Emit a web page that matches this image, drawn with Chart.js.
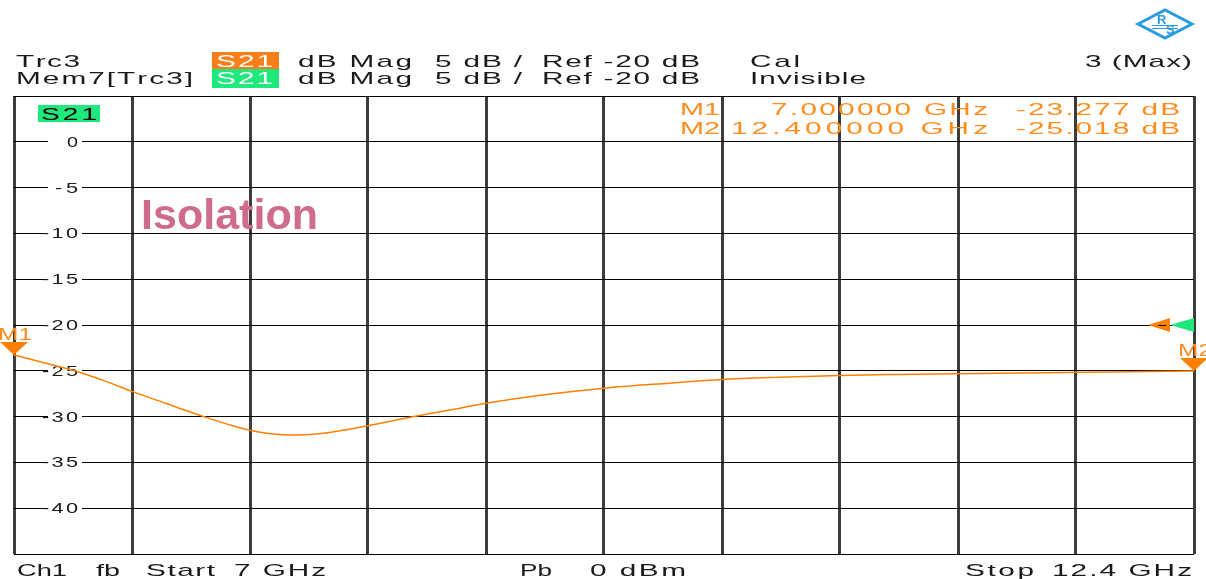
<!DOCTYPE html>
<html>
<head>
<meta charset="utf-8">
<script src="https://cdn.jsdelivr.net/npm/chart.js@4/dist/chart.umd.min.js"></script>
<style>
html,body{margin:0;padding:0;background:#fff;}
#wrap{width:1206px;height:579px;position:relative;}
</style>
</head>
<body>
<div id="wrap"><canvas id="c" width="1206" height="579"></canvas></div>
<script>
// ---- data ----
const freqGHz = [7.00, 7.15, 7.30, 7.42, 7.54, 7.70, 7.85, 8.00, 8.08, 8.15, 8.20, 8.26, 8.35, 8.45, 8.62, 8.83, 9.00, 9.16, 9.40, 9.70, 10.00, 10.24, 10.50, 10.78, 11.05, 11.32, 11.60, 11.86, 12.10, 12.40];
const s21dB   = [-23.28, -24.20, -25.15, -26.15, -27.25, -28.60, -29.85, -31.00, -31.50, -31.80, -31.93, -32.00, -31.95, -31.70, -31.00, -30.00, -29.25, -28.55, -27.70, -26.90, -26.35, -25.95, -25.70, -25.50, -25.40, -25.33, -25.25, -25.17, -25.10, -25.02];
const xGridGHz = [7.00, 7.54, 8.08, 8.62, 9.16, 9.70, 10.24, 10.78, 11.32, 11.86, 12.40];
const yTickLabels = [0, -5, -10, -15, -20, -25, -30, -35, -40];
const markerNames = ["M1", "M2"];
const markerFreqGHz = [7.0, 12.4];
const markerFreqText = ["7.000000 GHz", "12.400000 GHz"];
const markerValDB = [-23.277, -25.018];
const refLevelDB = -20;

const ORANGE = '#ff8000';
const ORANGE_TXT = '#ff8c1e';
const GREEN = '#1fe87c';
const TXT = '#1a1a1a';
const FONT = '"Liberation Sans", Arial, sans-serif';
const SX = 1.75;

// draw text char by char, horizontally stretched, spread to a target width
function drawSpaced(ctx, text, x, y, w, color, size, sx, align) {
  ctx.save();
  ctx.font = size + 'px ' + FONT;
  ctx.fillStyle = color;
  ctx.textAlign = 'left';
  ctx.textBaseline = 'alphabetic';
  const chars = [...text];
  let s = sx;
  let widths = chars.map(c => ctx.measureText(c).width * s);
  let total = widths.reduce((a, b) => a + b, 0);
  let gap = chars.length > 1 ? (w - total) / (chars.length - 1) : 0;
  if (gap < 0 || chars.length === 1) {
    const nat = chars.map(c => ctx.measureText(c).width).reduce((a, b) => a + b, 0);
    s = w / nat; gap = 0;
    widths = chars.map(c => ctx.measureText(c).width * s);
  }
  let cx = align === 'right' ? x - w : x;
  chars.forEach((c, i) => {
    ctx.save();
    ctx.translate(cx, y);
    ctx.scale(s, 1);
    ctx.fillText(c, 0, 0);
    ctx.restore();
    cx += widths[i] + gap;
  });
  ctx.restore();
}

const overlay = {
  id: 'overlay',
  beforeDatasetsDraw(chart) {
    const ctx = chart.ctx;
    const ys = chart.scales.y;
    yTickLabels.forEach(v => {
      const py = ys.getPixelForValue(v);
      ctx.fillStyle = '#fff';
      ctx.fillRect(48, py - 2, 34, 4);
      const s = String(Math.abs(v));
      const n = s.length;
      const w = 11 * n + 2 * (n - 1) + (v < 0 ? 12 : 0);
      drawSpaced(ctx, (v < 0 ? '-' : '') + s, 78, py + 5, w, TXT, 14, 1.55, 'right');
    });
    ctx.save();
    ctx.font = 'bold 43px ' + FONT;
    ctx.fillStyle = '#cf6b8e';
    const t = 'Isolation';
    const nw = ctx.measureText(t).width;
    ctx.translate(141, 229);
    ctx.scale(177 / nw, 1);
    ctx.fillText(t, 0, 0);
    ctx.restore();
    ctx.fillStyle = GREEN;
    ctx.fillRect(38, 105, 62, 17);
    drawSpaced(ctx, 'S21', 41, 120, 56, '#000', 16, SX);
  },
  afterDraw(chart) {
    const ctx = chart.ctx;
    const xs = chart.scales.x, ys = chart.scales.y;
    drawSpaced(ctx, 'Trc3', 16, 67, 64, TXT, 17, SX);
    drawSpaced(ctx, 'Mem7[Trc3]', 16, 84, 177, TXT, 17, SX);
    ctx.fillStyle = '#f97d18';
    ctx.fillRect(212, 52, 67, 17);
    ctx.fillStyle = GREEN;
    ctx.fillRect(212, 69, 67, 19);
    drawSpaced(ctx, 'S21', 216, 67, 57, '#fff', 17, SX);
    drawSpaced(ctx, 'S21', 216, 84, 57, '#fff', 17, SX);
    [67, 84].forEach(by => {
      drawSpaced(ctx, 'dB Mag', 298, by, 114, TXT, 17, SX);
      drawSpaced(ctx, '5 dB /', 435, by, 87, TXT, 17, SX);
      drawSpaced(ctx, 'Ref -20 dB', 542, by, 158, TXT, 17, SX);
    });
    drawSpaced(ctx, 'Cal', 750, 67, 50, TXT, 17, SX);
    drawSpaced(ctx, 'Invisible', 750, 84, 116, TXT, 17, SX);
    drawSpaced(ctx, '3 (Max)', 1192, 67, 107, TXT, 17, SX, 'right');
    markerNames.forEach((m, i) => {
      const by = 115 + i * 19;
      drawSpaced(ctx, m, 720, by, 40, ORANGE_TXT, 17, SX, 'right');
      drawSpaced(ctx, markerFreqText[i], 988, by, i === 0 ? 217 : 257, ORANGE_TXT, 17, SX, 'right');
      drawSpaced(ctx, markerValDB[i].toFixed(3) + ' dB', 1180, by, 164, ORANGE_TXT, 17, SX, 'right');
    });
    markerNames.forEach((m, i) => {
      const px = xs.getPixelForValue(markerFreqGHz[i]);
      const py = ys.getPixelForValue(markerValDB[i]);
      ctx.fillStyle = ORANGE;
      ctx.beginPath();
      ctx.moveTo(px - 14, py - 13);
      ctx.lineTo(px + 14, py - 13);
      ctx.lineTo(px, py);
      ctx.closePath();
      ctx.fill();
      drawSpaced(ctx, m, px - 16, py - 15, 34, ORANGE_TXT, 17, SX);
    });
    const ry = ys.getPixelForValue(refLevelDB);
    const rx = xs.right;
    ctx.fillStyle = GREEN;
    ctx.beginPath();
    ctx.moveTo(rx - 24, ry); ctx.lineTo(rx, ry - 7); ctx.lineTo(rx, ry + 7); ctx.closePath(); ctx.fill();
    ctx.fillStyle = ORANGE;
    ctx.beginPath();
    ctx.moveTo(rx - 46, ry); ctx.lineTo(rx - 24, ry - 7); ctx.lineTo(rx - 24, ry + 7); ctx.closePath(); ctx.fill();
    ctx.strokeStyle = '#000'; ctx.lineWidth = 1;
    ctx.beginPath(); ctx.moveTo(rx - 36, ry + 0.5); ctx.lineTo(rx - 28, ry + 0.5); ctx.stroke();
    drawSpaced(ctx, 'Ch1', 17, 576, 50, TXT, 17, SX);
    drawSpaced(ctx, 'fb', 96, 576, 24, TXT, 17, SX);
    drawSpaced(ctx, 'Start', 146, 576, 69, TXT, 17, SX);
    drawSpaced(ctx, '7 GHz', 234, 576, 92, TXT, 17, SX);
    drawSpaced(ctx, 'Pb', 520, 576, 32, TXT, 17, SX);
    drawSpaced(ctx, '0 dBm', 590, 576, 96, TXT, 17, SX);
    drawSpaced(ctx, 'Stop', 965, 576, 69, TXT, 17, SX);
    drawSpaced(ctx, '12.4 GHz', 1192, 576, 140, TXT, 17, SX, 'right');
    ctx.save();
    ctx.strokeStyle = '#2b9be0'; ctx.lineWidth = 3;
    ctx.beginPath();
    ctx.moveTo(1138, 24); ctx.lineTo(1165, 10); ctx.lineTo(1192, 24); ctx.lineTo(1165, 38); ctx.closePath();
    ctx.stroke();
    ctx.fillStyle = '#2b9be0';
    ctx.font = 'bold 13px ' + FONT;
    ctx.fillText('R', 1157, 24);
    ctx.fillText('S', 1166, 34);
    ctx.lineWidth = 1;
    ctx.beginPath(); ctx.moveTo(1152, 25.5); ctx.lineTo(1178, 25.5); ctx.moveTo(1152, 28.5); ctx.lineTo(1178, 28.5); ctx.stroke();
    ctx.restore();
  }
};

new Chart(document.getElementById('c'), {
  type: 'line',
  data: {
    datasets: [{
      data: freqGHz.map((f, i) => ({ x: f, y: s21dB[i] })),
      borderColor: ORANGE,
      borderWidth: 1.5,
      pointRadius: 0,
      cubicInterpolationMode: 'monotone',
      fill: false
    }]
  },
  options: {
    responsive: false,
    animation: false,
    devicePixelRatio: 1,
    layout: { padding: { left: 14, right: 12, top: 96, bottom: 25 } },
    plugins: { legend: { display: false }, tooltip: { enabled: false } },
    scales: {
      x: {
        type: 'linear', min: 7, max: 12.4,
        afterFit: s => { s.height = 0; },
        afterBuildTicks: s => { s.ticks = xGridGHz.map(v => ({ value: v })); },
        ticks: { display: false },
        grid: { color: '#3c3c3c', lineWidth: 3, drawTicks: false },
        border: { display: false }
      },
      y: {
        type: 'linear', min: -45, max: 5,
        afterFit: s => { s.width = 0; },
        ticks: { display: false, stepSize: 5 },
        grid: { color: '#000', lineWidth: 1, drawTicks: false },
        border: { display: false }
      }
    }
  },
  plugins: [overlay]
});
</script>
</body>
</html>
